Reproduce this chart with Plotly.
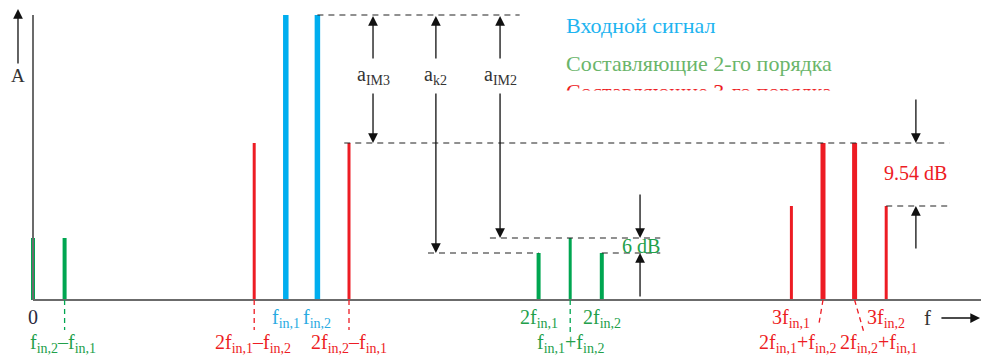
import plotly.graph_objects as go

# spectral lines: position on the (schematic) frequency grid and amplitude
input_x = [8, 9]
input_h = [285, 285]
im2_x = [0, 1, 16, 17, 18]
im2_h = [62, 62, 47, 62, 47]
im2_w = [4, 4, 4, 3, 4]
im3_x = [7, 10, 24, 25, 26, 27]
im3_h = [157, 157, 94, 157, 157, 94]
im3_w = [3, 3, 3, 5, 5, 3]

legend_text = ["Входной сигнал", "Составляющие 2-го порядка", "Составляющие 3-го порядка"]

BLUE = "#00AEEF"
GREEN = "#00A651"
RED = "#ED1C24"
GRAY = "#6b6b6b"
DARK = "#333333"
SERIF = "Liberation Serif"

fig = go.Figure()


def stems(xs, hs, color, width):
    px, py = [], []
    for x, h in zip(xs, hs):
        px += [x, x, None]
        py += [0, h, None]
    fig.add_trace(go.Scatter(x=px, y=py, mode="lines", line=dict(color=color, width=width),
                             hoverinfo="skip", showlegend=False))


# axes
fig.add_shape(type="line", x0=0, x1=30, y0=0, y1=0, line=dict(color=GRAY, width=2))
fig.add_shape(type="line", x0=0, x1=0, y0=0, y1=input_h[0], line=dict(color=GRAY, width=2))

for x, h in zip(input_x, input_h):
    stems([x], [h], BLUE, 5.5)
for x, h, w in zip(im2_x, im2_h, im2_w):
    stems([x], [h], GREEN, w)
for x, h, w in zip(im3_x, im3_h, im3_w):
    stems([x], [h], RED, w)

# dashed reference levels
dash = dict(color="#222222", width=1.2, dash="6px,5px")
top = input_h[1]
lvl3 = im3_h[0]
k2 = im2_h[2]
im2 = im2_h[3]
h3 = im3_h[2]
for x0, x1, y in [(9, 15.4, top), (9.85, 29.0, lvl3), (12.5, 16, k2), (18, 19.85, k2),
                  (14.46, 19.85, im2), (27, 29.0, h3)]:
    fig.add_shape(type="line", x0=x0, x1=x1, y0=y, y1=y, line=dash)

# leader lines below the axis
lead = [(1, 1, -30, GREEN), (7, 7, -30, RED), (10, 10, -30, RED), (17, 17, -35, GREEN),
        (25, 24.87, -24, RED), (26, 26.3, -33, RED)]
for x0, x1, y1, c in lead:
    fig.add_shape(type="line", x0=x0, x1=x1, y0=0, y1=y1, line=dict(color=c, width=1.3, dash="5px,4px"))


def arrow(x, tail, tip, color="#111111"):
    fig.add_annotation(x=x, y=tip, ax=x, ay=tail, axref="x", ayref="y", xref="x", yref="y",
                       text="", showarrow=True, arrowhead=2, arrowsize=1.5, arrowwidth=1.3,
                       arrowcolor=color, standoff=0, startstandoff=0)


def label(x, y, text, color, size=19, xanchor="center"):
    fig.add_annotation(x=x, y=y, xref="x", yref="y", text=text, showarrow=False,
                       font=dict(family=SERIF, size=size, color=color), xanchor=xanchor, yanchor="middle")


# amplitude difference arrows
for xa, lo, name in [(10.76, lvl3, "a<sub>IM3</sub>"), (12.75, k2, "a<sub>k2</sub>"), (14.78, im2, "a<sub>IM2</sub>")]:
    arrow(xa, 240, top - 1)
    arrow(xa, 208, lo)
    label(xa, 225, name, DARK, 20)

arrow(19.21, 107, im2)
arrow(19.21, 2, k2)
label(19.24, 54, "6 dB", "#22A04A", 20)
arrow(27.94, 202, lvl3)
arrow(27.94, 50, h3)
label(27.94, 127, "9.54 dB", RED, 20)

# axis arrows and names
arrow(-0.475, 235, 291)
label(-0.475, 225, "A", DARK, 19)
fig.add_annotation(x=29.97, y=-18, ax=28.7, ay=-18, axref="x", ayref="y", text="", showarrow=True,
                   arrowhead=2, arrowsize=1.5, arrowwidth=1.3, arrowcolor="#111111", standoff=0)
label(28.3, -18, "f", DARK, 21)

# frequency labels
label(0, -17, "0", "#2b2b40", 20)
label(8, -18, "f<sub>in,1</sub>", "#29ABE2", 20)
label(9, -18, "f<sub>in,2</sub>", "#29ABE2", 20)
label(16, -18, "2f<sub>in,1</sub>", "#22A04A", 20)
label(18, -18, "2f<sub>in,2</sub>", "#22A04A", 20)
label(24, -18, "3f<sub>in,1</sub>", RED, 20)
label(27, -18, "3f<sub>in,2</sub>", RED, 20)
label(0.95, -43, "f<sub>in,2</sub>–f<sub>in,1</sub>", "#22A04A", 20)
label(6.97, -43, "2f<sub>in,1</sub>–f<sub>in,2</sub>", RED, 20)
label(10, -43, "2f<sub>in,2</sub>–f<sub>in,1</sub>", RED, 20)
label(17, -43, "f<sub>in,1</sub>+f<sub>in,2</sub>", "#22A04A", 20)
label(24.18, -43, "2f<sub>in,1</sub>+f<sub>in,2</sub>", RED, 20)
label(26.77, -43, "2f<sub>in,2</sub>+f<sub>in,1</sub>", RED, 20)

# legend block (third line cut off, as in the source)
fig.add_trace(go.Scatter(x=[16.87] * 3, y=[273, 235, 207], mode="text", text=legend_text,
                         textposition="middle right", hoverinfo="skip", showlegend=False,
                         textfont=dict(family=SERIF, size=22, color=["#1EB4F0", "#6AB56A", RED])))
fig.add_shape(type="rect", x0=16.5, x1=27, y0=170, y1=209.5, fillcolor="white",
              line=dict(width=0), layer="above")

fig.update_layout(width=981, height=356, margin=dict(l=0, r=0, t=0, b=0),
                  plot_bgcolor="white", paper_bgcolor="white", showlegend=False)
fig.update_xaxes(range=[-33 / 31.6, 948 / 31.6], visible=False)
fig.update_yaxes(range=[-56, 300], visible=False)

fig.write_html("out.html", config={"displayModeBar": False},
               post_script="document.body.style.margin='0';")
